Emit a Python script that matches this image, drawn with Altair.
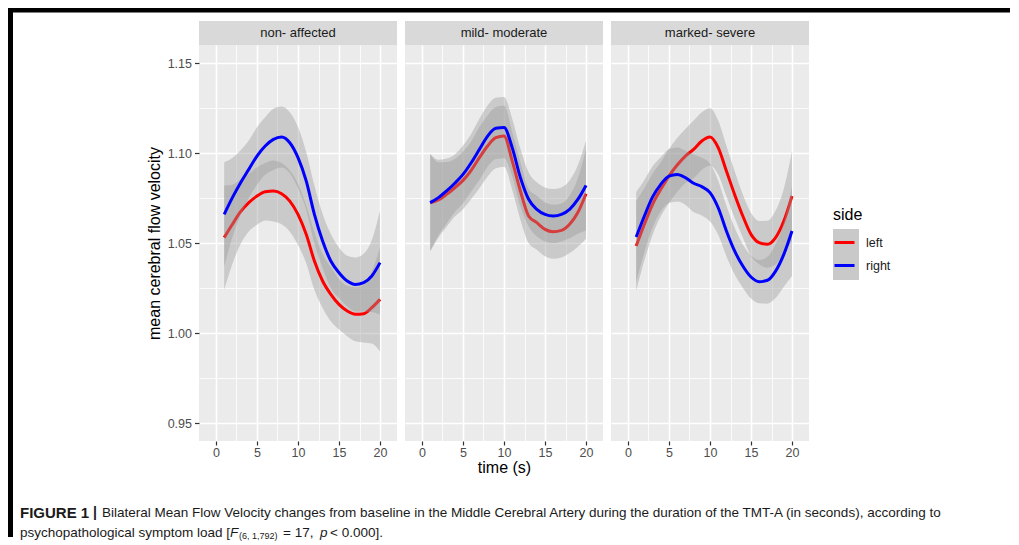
import altair as alt
import pandas as pd

time_s = list(range(1, 21))
panels = ["non- affected", "mild- moderate", "marked- severe"]
sides = ["left", "right"]
side_colors = ["#ff0000", "#0000ff"]

nonaff_left = [1.0530, 1.0604, 1.0674, 1.0724, 1.0761, 1.0785, 1.0789, 1.0774, 1.0733, 1.0659,
               1.0548, 1.0400, 1.0289, 1.0215, 1.0159, 1.0122, 1.0104, 1.0107, 1.0141, 1.0187]
nonaff_right = [1.0659, 1.0752, 1.0835, 1.0909, 1.0983, 1.1039, 1.1076, 1.1089, 1.1057, 1.0974,
                1.0845, 1.0659, 1.0511, 1.0400, 1.0335, 1.0289, 1.0270, 1.0280, 1.0317, 1.0391]
mild_left = [1.0724, 1.0739, 1.0770, 1.0807, 1.0848, 1.0904, 1.0974, 1.1039, 1.1085, 1.1094,
             1.0956, 1.0789, 1.0650, 1.0613, 1.0576, 1.0563, 1.0570, 1.0604, 1.0669, 1.0774]
mild_right = [1.0724, 1.0752, 1.0789, 1.0832, 1.0881, 1.0946, 1.1020, 1.1094, 1.1137, 1.1141,
              1.1030, 1.0863, 1.0743, 1.0687, 1.0659, 1.0650, 1.0659, 1.0687, 1.0742, 1.0820]
marked_left = [1.0483, 1.0604, 1.0715, 1.0798, 1.0872, 1.0933, 1.0983, 1.1020, 1.1067, 1.1089,
               1.1030, 1.0900, 1.0770, 1.0650, 1.0548, 1.0502, 1.0493, 1.0530, 1.0622, 1.0761]
marked_right = [1.0533, 1.0650, 1.0756, 1.0826, 1.0872, 1.0881, 1.0863, 1.0832, 1.0813, 1.0780,
                1.0696, 1.0567, 1.0456, 1.0372, 1.0311, 1.0285, 1.0293, 1.0344, 1.0437, 1.0567]

se_nonaff = [0.029, 0.022, 0.018, 0.016, 0.016, 0.016, 0.017, 0.017, 0.017, 0.017,
             0.016, 0.016, 0.015, 0.015, 0.014, 0.014, 0.015, 0.016, 0.020, 0.029]
se_mild = [0.027, 0.021, 0.018, 0.016, 0.016, 0.016, 0.017, 0.017, 0.017, 0.017,
           0.016, 0.016, 0.015, 0.015, 0.015, 0.015, 0.015, 0.016, 0.019, 0.025]
se_marked = [0.025, 0.020, 0.017, 0.015, 0.015, 0.015, 0.015, 0.016, 0.016, 0.016,
             0.015, 0.014, 0.013, 0.012, 0.012, 0.012, 0.013, 0.015, 0.018, 0.025]

x_values = [0, 2.5, 5, 7.5, 10, 12.5, 15, 17.5, 20]
y_values = [0.95, 0.975, 1.0, 1.025, 1.05, 1.075, 1.1, 1.125, 1.15]

caption_texts = [
    "FIGURE 1", "|",
    "Bilateral Mean Flow Velocity changes from baseline in the Middle Cerebral Artery during the duration of the TMT-A (in seconds), according to",
    "psychopathological symptom load [", "F", "(6, 1,792)", "= 17,", "p", "< 0.000].",
]

series = {
    ("non- affected", "left"): (nonaff_left, se_nonaff),
    ("non- affected", "right"): (nonaff_right, se_nonaff),
    ("mild- moderate", "left"): (mild_left, se_mild),
    ("mild- moderate", "right"): (mild_right, se_mild),
    ("marked- severe", "left"): (marked_left, se_marked),
    ("marked- severe", "right"): (marked_right, se_marked),
}

rows = []
for (p, s), (vals, se) in series.items():
    for t, v, e in zip(time_s, vals, se):
        rows.append({"panel": p, "side": s, "time": t, "mfv": v, "lo": v - e, "hi": v + e})
df = pd.DataFrame(rows)

PW, PH = 198, 396
FONT = "Liberation Sans"

x_scale = alt.Scale(domain=[-2.07, 22.07], nice=False, zero=False)
y_scale = alt.Scale(domain=[0.94, 1.16], nice=False, zero=False)
color_scale = alt.Scale(domain=sides, range=side_colors)

x_major = "datum.value % 5 == 0"
y_major = "round(datum.value * 1000) % 50 == 0"


def x_axis(title):
    return alt.Axis(
        values=x_values,
        labelExpr=f"{x_major} ? datum.label : ''",
        grid=True, gridColor="white",
        gridWidth={"condition": {"test": x_major, "value": 1.6}, "value": 0.8},
        domain=False,
        tickColor="#333333", tickSize=4, tickWidth=1.2,
        tickOpacity={"condition": {"test": x_major, "value": 1}, "value": 0},
        labelColor="#4d4d4d", labelFontSize=12.5, labelFont=FONT, labelPadding=1,
        labelFlush=False, labelOverlap=False,
        title=title if title else "",
        titleFont=FONT, titleFontSize=16, titleFontWeight="normal", titleColor="black",
        titlePadding=1,
    )


def y_axis(first):
    if first:
        return alt.Axis(
            values=y_values,
            labelExpr=f"{y_major} ? format(datum.value, '.2f') : ''",
            grid=True, gridColor="white",
            gridWidth={"condition": {"test": y_major, "value": 1.6}, "value": 0.8},
            domain=False,
            tickColor="#333333", tickSize=4.5, tickWidth=1.2,
            tickOpacity={"condition": {"test": y_major, "value": 1}, "value": 0},
            labelColor="#4d4d4d", labelFontSize=12.5, labelFont=FONT, labelPadding=3,
            labelOverlap=False,
            title="mean cerebral flow velocity",
            titleFont=FONT, titleFontSize=16, titleFontWeight="normal", titleColor="black",
            titlePadding=5,
        )
    return alt.Axis(
        values=y_values, labels=False, ticks=False, domain=False, title="",
        grid=True, gridColor="white",
        gridWidth={"condition": {"test": y_major, "value": 1.6}, "value": 0.8},
    )


legend = alt.Legend(
    title="side", orient="none", legendX=634, legendY=162,
    symbolType="stroke", symbolSize=400, symbolStrokeWidth=3,
    labelFont=FONT, labelFontSize=12.5, labelColor="#1a1a1a", labelOffset=10,
    titleFont=FONT, titleFontSize=16, titleFontWeight="normal", titleColor="black",
    titlePadding=8, rowPadding=5, padding=0,
)


def make_panel(i, name):
    d = df[df["panel"] == name]
    base = alt.Chart(d)
    xa = x_axis("time (s)" if i == 1 else None)
    ya = y_axis(i == 0)
    layers = []
    for s in sides:
        ds = base.transform_filter(alt.datum.side == s)
        band = ds.mark_area(color="#999999", opacity=0.4, interpolate="monotone").encode(
            x=alt.X("time:Q", scale=x_scale, axis=xa),
            y=alt.Y("lo:Q", scale=y_scale, axis=ya),
            y2="hi:Q",
        )
        line = ds.mark_line(strokeWidth=3, interpolate="monotone").encode(
            x=alt.X("time:Q", scale=x_scale, axis=xa),
            y=alt.Y("mfv:Q", scale=y_scale, axis=ya),
            color=alt.Color("side:N", scale=color_scale, legend=legend),
        )
        layers += [band, line]

    lab = alt.Chart(pd.DataFrame({"label": [name]}))
    strip = lab.mark_rect(color="#d9d9d9").encode(
        x=alt.value(0), x2=alt.value(PW), y=alt.value(-24), y2=alt.value(0)
    )
    strip_text = lab.mark_text(font=FONT, fontSize=13, color="#1a1a1a", baseline="middle").encode(
        text="label:N", x=alt.value(PW / 2), y=alt.value(-12)
    )
    layers += [strip, strip_text]

    if i == 2:
        keybg = alt.Chart(pd.DataFrame({"k": [0]})).mark_rect(color="#c9c9c9").encode(
            x=alt.value(222), x2=alt.value(248), y=alt.value(184), y2=alt.value(235)
        )
        layers.append(keybg)

    if i == 0:
        frame = alt.Chart(pd.DataFrame({"k": [0]}))
        top_line = frame.mark_rect(color="black").encode(
            x=alt.value(-191), x2=alt.value(811), y=alt.value(-37), y2=alt.value(-32.5)
        )
        left_line = frame.mark_rect(color="black").encode(
            x=alt.value(-191), x2=alt.value(-186), y=alt.value(-37), y2=alt.value(492)
        )
        layers.append(top_line)
        layers.append(left_line)
        cap = pd.DataFrame({
            "txt": caption_texts,
            "cx": [-179, -106, -97, -179, 31, 40, 84, 121, 131],
            "cy": [468, 468, 468, 488, 488, 491, 488, 488, 488],
            "wt": ["bold", "bold", "normal", "normal", "normal", "normal", "normal", "normal", "normal"],
            "st": ["normal", "normal", "normal", "normal", "italic", "normal", "normal", "italic", "normal"],
            "fs": [15, 14, 13.5, 13.5, 13.5, 9, 13.5, 13.5, 13.5],
        })
        for j in range(len(cap)):
            r = cap.iloc[j]
            sub = alt.Chart(cap.iloc[[j]]).mark_text(
                font=FONT, fontSize=float(r.fs), fontWeight=r.wt, fontStyle=r.st,
                align="left", baseline="middle", color="#1a1a1a",
            ).encode(text="txt:N", x=alt.value(int(r.cx)), y=alt.value(int(r.cy)))
            layers.append(sub)

    return alt.layer(*layers).properties(width=PW, height=PH)


charts = [make_panel(i, p) for i, p in enumerate(panels)]

chart = alt.hconcat(*charts, spacing=8, bounds="flush").resolve_scale(
    color="shared"
).resolve_legend(color="shared").properties(padding=0).configure_view(
    fill="#ebebeb", strokeWidth=0
)

chart.save("out.html", embed_options={"renderer": "svg", "actions": False})
